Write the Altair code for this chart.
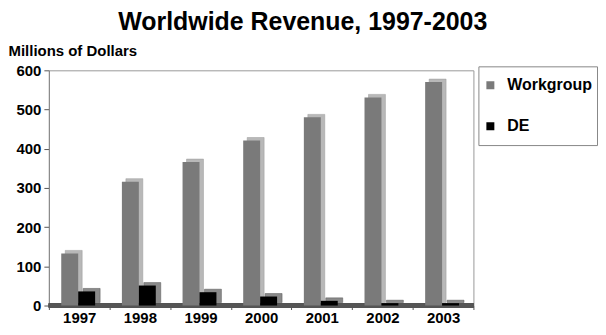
import altair as alt
import pandas as pd

years = ["1997", "1998", "1999", "2000", "2001", "2002", "2003"]
workgroup = [133, 316, 366, 421, 480, 531, 570]
de = [36, 51, 34, 23, 12, 6, 6]
series = ["Workgroup", "DE"]
y_ticks = [0, 100, 200, 300, 400, 500, 600]

df = pd.DataFrame({
    "year": years * 2,
    "series": [series[0]] * len(years) + [series[1]] * len(years),
    "value": workgroup + de,
})
wg = df[df.series == "Workgroup"]
dd = df[df.series == "DE"]

FONT = "Liberation Sans"

x_axis = alt.Axis(title=None, labelAngle=0, labelFontSize=15, labelFontWeight="bold",
                  labelColor="black", tickBand="extent", domain=False, ticks=True,
                  tickColor="#555", tickSize=4, labelPadding=1)
y_axis = alt.Axis(values=y_ticks, title="Millions of Dollars", titleAngle=0,
                  titleX=-41, titleY=-20, titleAlign="left", titleBaseline="middle",
                  titleFontSize=15, titleFontWeight="bold", titleColor="black",
                  labelFontSize=15, labelFontWeight="bold", labelColor="black",
                  labelOverlap=False, grid=False, domainColor="#888",
                  tickColor="#555", tickSize=5, labelPadding=3)
y_scale = alt.Scale(domain=[0, 600], nice=False)

x = alt.X("year:N", scale=alt.Scale(paddingInner=0, paddingOuter=0), axis=x_axis)
y = alt.Y("value:Q", scale=y_scale, axis=y_axis)
color = alt.Color("series:N", scale=alt.Scale(domain=series, range=["#7a7a7a", "#000000"]),
                  legend=alt.Legend(title=None, orient="none", legendX=431, legendY=-4,
                                    symbolType="square", symbolSize=64, symbolStrokeWidth=0,
                                    labelFontSize=16, labelFontWeight="bold", labelColor="black",
                                    labelOffset=9, padding=4, clipHeight=30, rowPadding=11,
                                    strokeColor="#888", fillColor="white"))

floor = alt.Chart(df).mark_rule(color="#555", strokeWidth=4).encode(
    y=alt.Y(datum=0, scale=y_scale, axis=y_axis))
wg_side = alt.Chart(wg).mark_bar(width=17, xOffset=-5.5, yOffset=-3, y2Offset=-3,
                                 color="#b8b8b8", stroke="#999", strokeWidth=0.5).encode(x=x, y=y)
wg_front = alt.Chart(wg).mark_bar(width=17, xOffset=-9.5).encode(x=x, y=y, color=color)
de_side = alt.Chart(dd).mark_bar(width=17, xOffset=12.5, yOffset=-3, y2Offset=-3,
                                 color="#8a8a8a", stroke="#555", strokeWidth=0.5).encode(x=x, y=y)
de_front = alt.Chart(dd).mark_bar(width=17, xOffset=7.5).encode(x=x, y=y, color=color)

chart = alt.layer(floor, wg_side, wg_front, de_side, de_front).properties(
    width=426, height=236,
    padding={"left": 0, "top": 2, "right": 0, "bottom": 0},
    title=alt.TitleParams("Worldwide Revenue, 1997-2003", fontSize=25, fontWeight="bold",
                          anchor="middle", frame="bounds", color="black", offset=8, font=FONT),
).configure(font=FONT).configure_view(stroke="#999")

chart.save("out.html", embed_options={"renderer": "svg", "actions": False})
